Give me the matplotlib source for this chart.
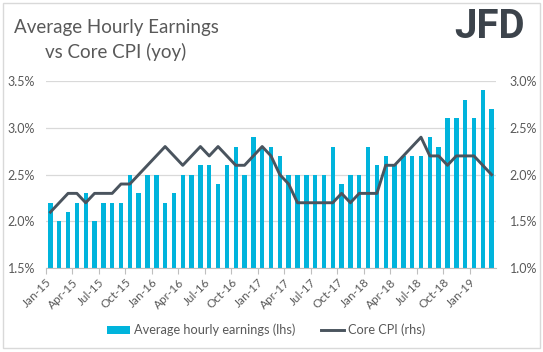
import numpy as np
import matplotlib
matplotlib.use("Agg")
import matplotlib.pyplot as plt
from matplotlib.patches import Rectangle

# data: monthly, Jan-15 .. Mar-19
months = ["Jan", "Feb", "Mar", "Apr", "May", "Jun",
          "Jul", "Aug", "Sep", "Oct", "Nov", "Dec"]
labels = [f"{months[i % 12]}-{15 + i // 12}" for i in range(51)]

earnings = [2.2, 2.0, 2.1, 2.2, 2.3, 2.0, 2.2, 2.2, 2.2, 2.5, 2.3, 2.5,
            2.5, 2.2, 2.3, 2.5, 2.5, 2.6, 2.6, 2.4, 2.6, 2.8, 2.5, 2.9,
            2.8, 2.8, 2.7, 2.5, 2.5, 2.5, 2.5, 2.5, 2.8, 2.4, 2.5, 2.5,
            2.8, 2.6, 2.7, 2.6, 2.7, 2.7, 2.7, 2.9, 2.8, 3.1, 3.1, 3.3,
            3.1, 3.4, 3.2]
core_cpi = [1.6, 1.7, 1.8, 1.8, 1.7, 1.8, 1.8, 1.8, 1.9, 1.9, 2.0, 2.1,
            2.2, 2.3, 2.2, 2.1, 2.2, 2.3, 2.2, 2.3, 2.2, 2.1, 2.1, 2.2,
            2.3, 2.2, 2.0, 1.9, 1.7, 1.7, 1.7, 1.7, 1.7, 1.8, 1.7, 1.8,
            1.8, 1.8, 2.1, 2.1, 2.2, 2.3, 2.4, 2.2, 2.2, 2.1, 2.2, 2.2,
            2.2, 2.1, 2.0]

bar_col = "#00B4DC"
line_col = "#4A545E"
txt_col = "#595959"
font = "Lato"

fig = plt.figure(figsize=(5.43, 3.52), dpi=100)
ax = fig.add_axes([46 / 543, 1 - 268.3 / 352, 450 / 543, 187.3 / 352])
x = np.arange(len(earnings))

#--bars (left axis)--#
ax.bar(x, earnings, width=0.5, color=bar_col, label="Average hourly earnings (lhs)", zorder=2)
ax.set_ylim(1.5, 3.5)
ax.set_yticks([1.5, 2.0, 2.5, 3.0, 3.5])
ax.set_yticklabels([f"{v:.1f}%" for v in [1.5, 2.0, 2.5, 3.0, 3.5]])
ax.set_xlim(-0.5, len(earnings) - 0.5)
ax.grid(axis="y", color="#D9D9D9", lw=0.9, zorder=0)
ax.set_axisbelow(True)

ticks = np.arange(0, len(earnings), 3)
ax.set_xticks(ticks - 0.5)
ax.set_xticklabels([labels[i] for i in ticks], rotation=45, ha="right",
                   rotation_mode="anchor", fontsize=8.5, color=txt_col, family=font)
ax.tick_params(axis="x", length=4, color="#BFBFBF", pad=2)
ax.tick_params(axis="y", length=0, labelsize=9, labelcolor=txt_col, pad=8)
for t in ax.get_yticklabels():
    t.set_family(font)
for s in ["top", "left", "right"]:
    ax.spines[s].set_visible(False)
ax.spines["bottom"].set_color("#BFBFBF")

#--line (right axis)--#
ax2 = ax.twinx()
ax2.plot(x, core_cpi, color=line_col, lw=2.1, label="Core CPI (rhs)", zorder=3)
ax2.set_ylim(1.0, 3.0)
ax2.set_yticks([1.0, 1.5, 2.0, 2.5, 3.0])
ax2.set_yticklabels([f"{v:.1f}%" for v in [1.0, 1.5, 2.0, 2.5, 3.0]], family=font)
ax2.tick_params(axis="y", length=0, labelsize=9, labelcolor=txt_col, pad=10)
for s in ["top", "left", "right", "bottom"]:
    ax2.spines[s].set_visible(False)

#--legend--#
h1, l1 = ax.get_legend_handles_labels()
h2, l2 = ax2.get_legend_handles_labels()
leg = fig.legend(h1 + h2, l1 + l2, loc="center", bbox_to_anchor=(0.49, 0.062),
                 ncol=2, frameon=False, prop={"family": font, "size": 9.2},
                 handlelength=1.8, handleheight=0.6, columnspacing=2.0, handletextpad=0.3)
for t in leg.get_texts():
    t.set_color(txt_col)

#--title and logo--#
fig.text(116 / 543, 1 - 27 / 352, "Average Hourly Earnings", ha="center", va="center",
         fontsize=13.5, color=txt_col, family=font)
fig.text(116 / 543, 1 - 52 / 352, "vs Core CPI (yoy)", ha="center", va="center",
         fontsize=13.5, color=txt_col, family=font)
fig.text(490 / 543, 1 - 27 / 352, "JFD", ha="center", va="center",
         fontsize=29, color="#3C434B", family="Roboto", weight="bold")

#--frame--#
fig.patches.append(Rectangle((3 / 543, 4 / 352), 537 / 543, 345 / 352, transform=fig.transFigure,
                             fill=False, edgecolor="#D9D9D9", lw=1))

fig.savefig("out.png", dpi=100)
